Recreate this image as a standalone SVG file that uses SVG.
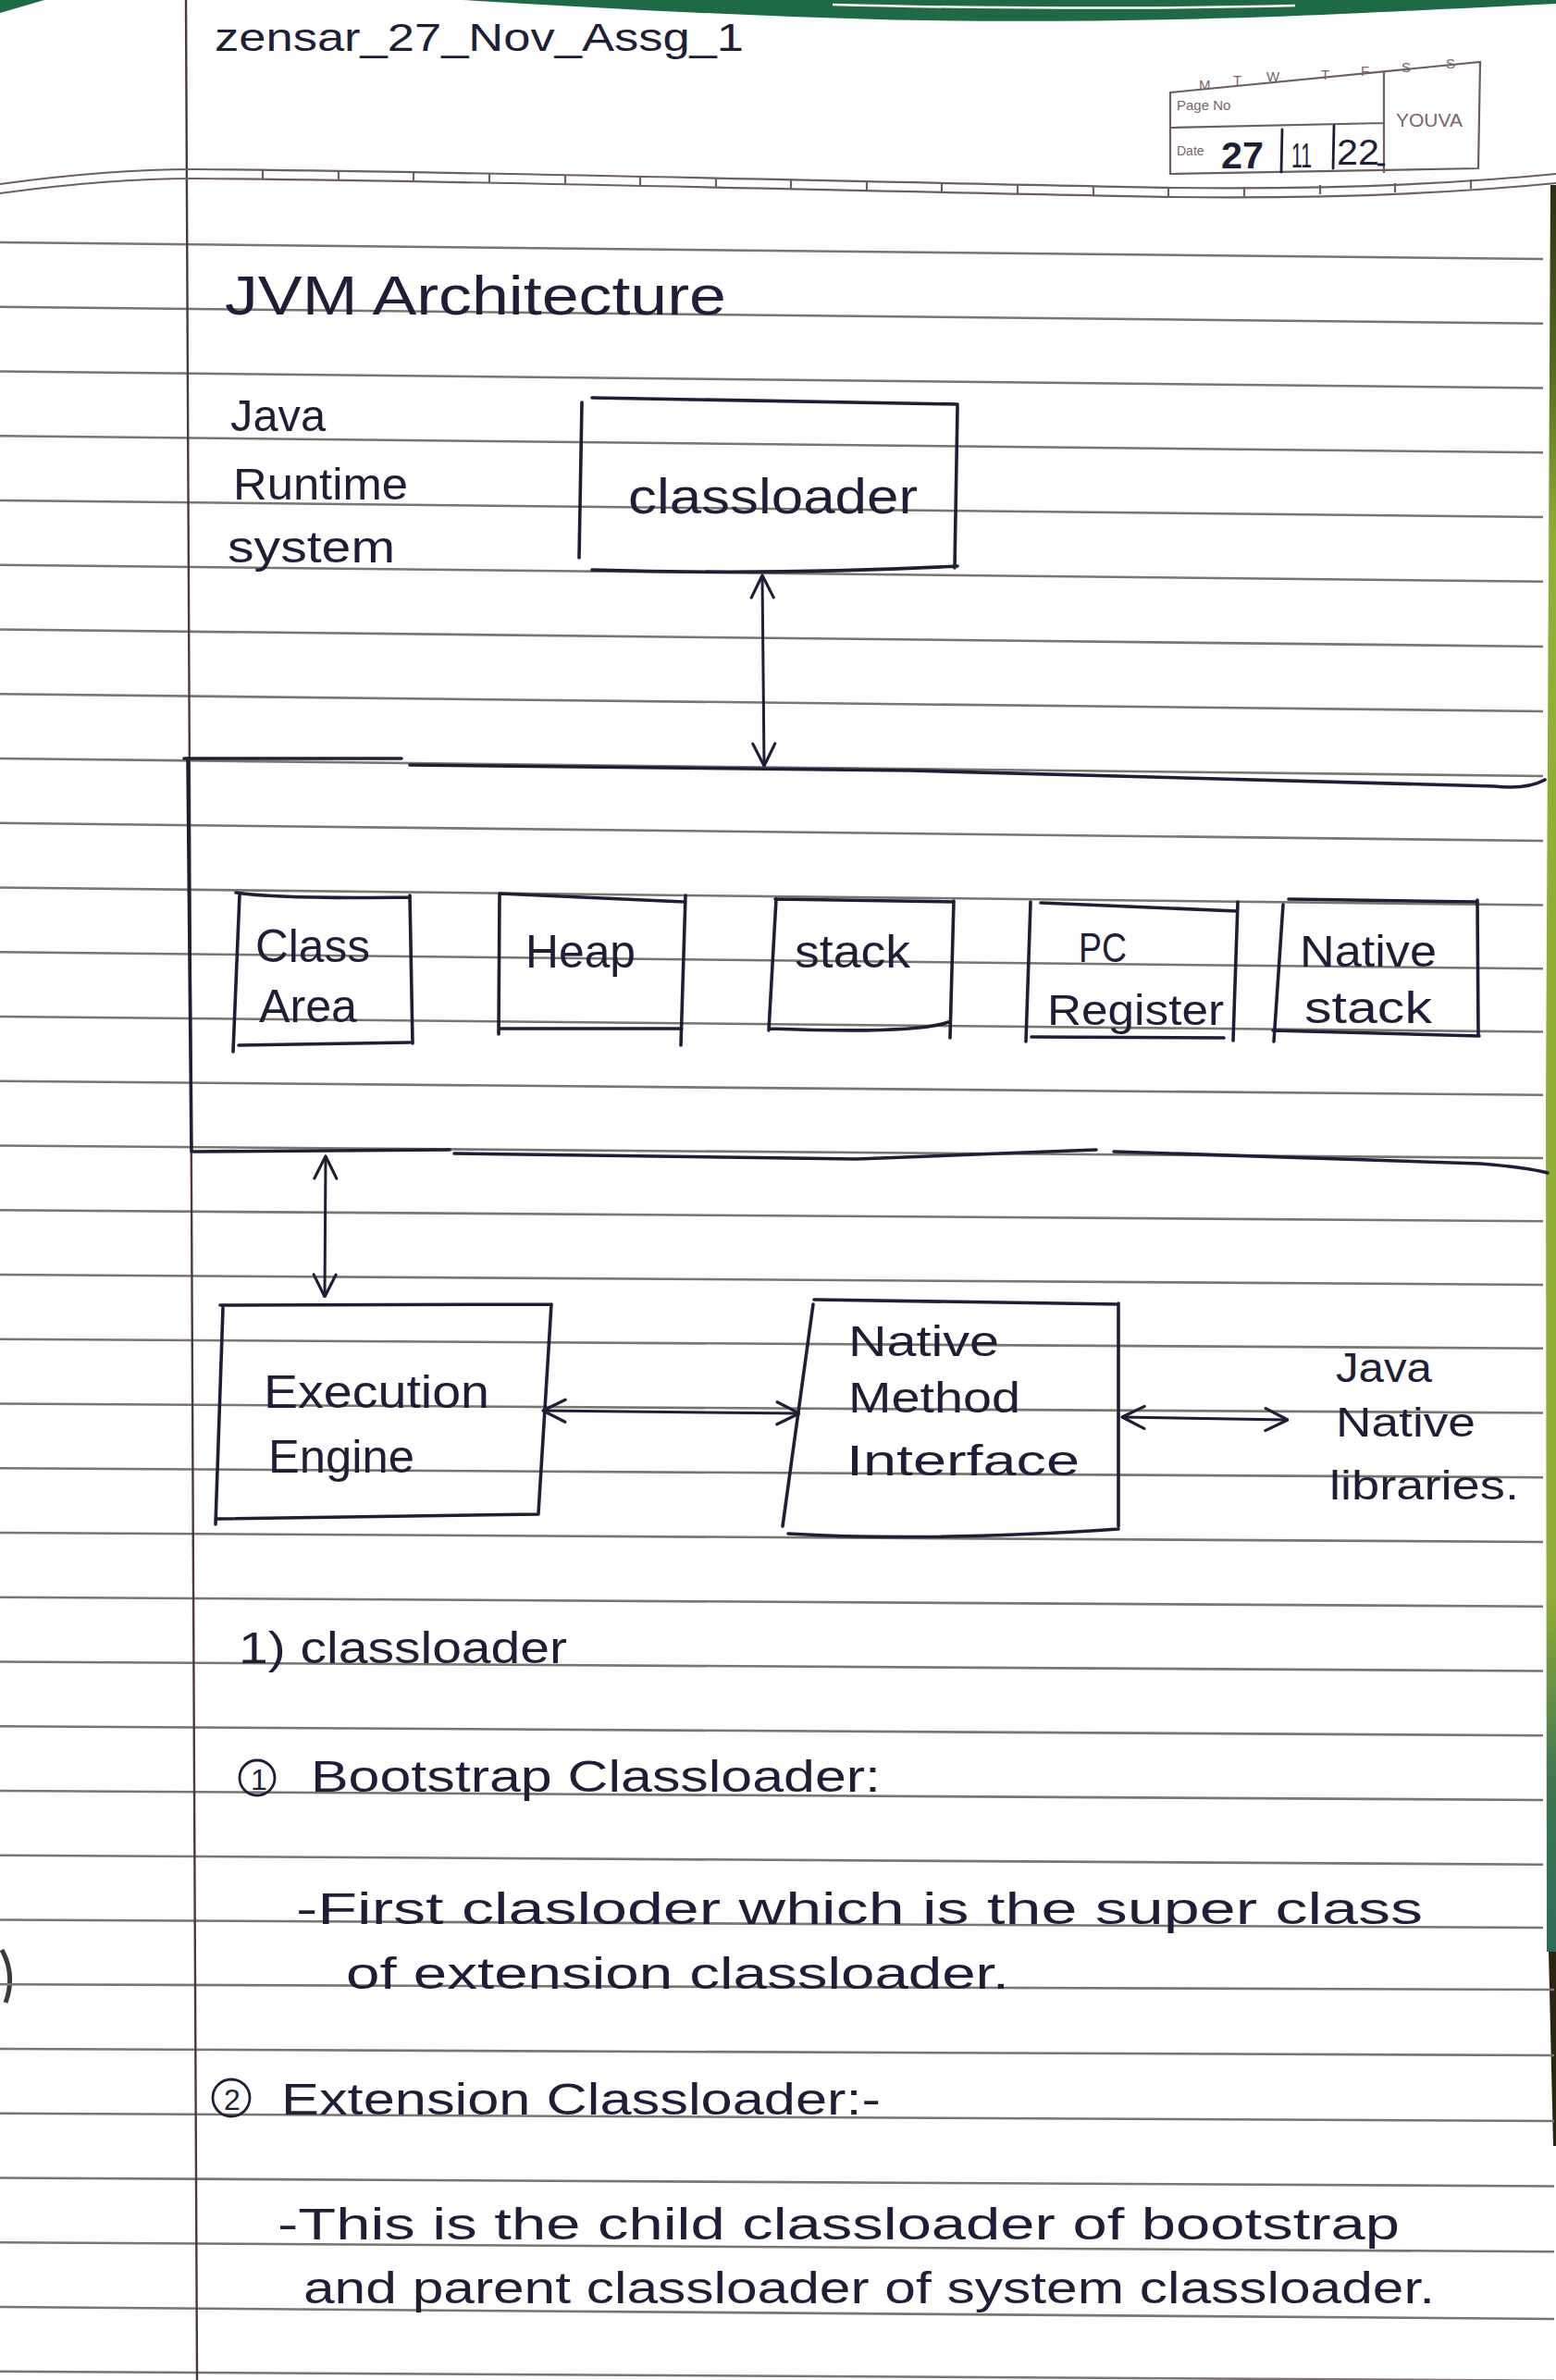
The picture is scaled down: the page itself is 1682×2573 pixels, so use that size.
<svg xmlns="http://www.w3.org/2000/svg" width="1682" height="2573" viewBox="0 0 1682 2573">
  <style>
    .rule { stroke: #7b7470; stroke-width: 2.6; fill: none; }
    .ink { stroke: #1e1e38; stroke-width: 3.6; fill: none; stroke-linecap: round; stroke-linejoin: round; }
    .inkthin { stroke: #1e1e38; stroke-width: 2.8; fill: none; stroke-linecap: round; }
    .hw { font-family: "Liberation Sans", Arial, sans-serif; fill: #1e1e38; }
    .print { font-family: "Liberation Sans", Arial, sans-serif; fill: #7a6468; }
    .pad { stroke: #6e5e62; stroke-width: 2.2; fill: none; }
    .arrow { stroke: #1e1e38; stroke-width: 3; fill: none; marker-start: url(#ah); marker-end: url(#ah); }
  </style>
  <defs>
    <marker id="ah" viewBox="0 0 20 20" refX="19" refY="10" markerWidth="30" markerHeight="30" markerUnits="userSpaceOnUse" orient="auto-start-reverse">
      <path d="M3,2 L19,10 L3,18" fill="none" stroke="#1e1e38" stroke-width="2.1" stroke-linecap="round" stroke-linejoin="round"/>
    </marker>
    <linearGradient id="binding" x1="0" y1="200" x2="0" y2="2110" gradientUnits="userSpaceOnUse">
      <stop offset="0" stop-color="#2d2c12"/>
      <stop offset="0.1" stop-color="#4f6a1e"/>
      <stop offset="0.2" stop-color="#93ae35"/>
      <stop offset="0.8" stop-color="#8fac38"/>
      <stop offset="0.9" stop-color="#3f7650"/>
      <stop offset="1" stop-color="#2d6a5a"/>
    </linearGradient>
  </defs>

  <!-- paper -->
  <rect width="1682" height="2573" fill="#ffffff"/>

  <!-- green cover edge at the top and the binding strip on the right -->
  <g id="page-edges">
    <path d="M0,0 H48 L0,14 Z" fill="#1f6a46"/>
    <path d="M500,0 H1682 V4 C1600,8 1520,12 1450,15 C1300,22 1100,25 950,21 C800,17 650,9 500,0 Z" fill="#1f6a46"/>
    <path d="M900,5 C1050,9 1250,10 1400,6" stroke="#ffffff" stroke-width="2.5" fill="none"/>
    <path d="M1676,200 L1682,200 L1682,2110 L1672,2110 L1671,1200 Z" fill="url(#binding)"/>
    <path d="M1674,2110 L1682,2110 L1682,2320 L1679,2320 Z" fill="#2a2512"/>
    <path d="M2,2108 Q17,2135 6,2165" stroke="#3a3a3a" stroke-width="5" fill="none"/>
  </g>

  <!-- ruled lines -->
  <g id="rules" class="rule">
    <path d="M0,262 L1668,280"/>
    <path d="M0,331.75 L1668,349.75"/>
    <path d="M0,401.5 L1668,419.5"/>
    <path d="M0,471.25 L1668,489.25"/>
    <path d="M0,541 L1668,559"/>
    <path d="M0,610.75 L1668,628.75"/>
    <path d="M0,680.5 L1668,699"/>
    <path d="M0,750.25 L1668,769"/>
    <path d="M0,820 L1668,839"/>
    <path d="M0,889.75 L1668,909"/>
    <path d="M0,959.5 L1668,978.5"/>
    <path d="M0,1029.25 L1668,1047.3"/>
    <path d="M0,1099 L1668,1115.5"/>
    <path d="M0,1168.75 L1668,1183.75"/>
    <path d="M0,1238.5 L1668,1252"/>
    <path d="M0,1308.25 L1668,1320.25"/>
    <path d="M0,1378 L1668,1389"/>
    <path d="M0,1447.75 L1668,1457.75"/>
    <path d="M0,1517.5 L1668,1527.5"/>
    <path d="M0,1587.25 L1668,1597.25"/>
    <path d="M0,1657 L1668,1667"/>
    <path d="M0,1726.75 L1668,1736.75"/>
    <path d="M0,1796.5 L1668,1806.5"/>
    <path d="M0,1866.25 L1668,1876.25"/>
    <path d="M0,1936 L1668,1946"/>
    <path d="M0,2005.75 L1668,2015.75"/>
    <path d="M0,2075.5 L1668,2084"/>
    <path d="M0,2145.25 L1680,2151"/>
    <path d="M0,2215 L1680,2222"/>
    <path d="M0,2284.75 L1680,2293"/>
    <path d="M0,2354.5 L1680,2363.5"/>
    <path d="M0,2424.25 L1680,2434.25"/>
    <path d="M0,2494 L1680,2507"/>
    <path d="M0,2563.75 L1680,2573.75"/>
  </g>

  <!-- margin line -->
  <path id="margin" d="M201,0 L213,2573" stroke="#4d3a38" stroke-width="2.4" fill="none"/>

  <!-- printed double header rule with ticks -->
  <g id="header-rule" class="pad">
    <path d="M0,199 C80,188 150,183 210,183 C500,185 900,196 1270,203 C1450,205 1580,198 1682,188"/>
    <path d="M0,209 C80,198 150,193 210,193 C500,195 900,206 1270,213 C1450,215 1580,208 1682,198"/>
    <path d="M284,184 v10 M366,185 v10 M447,187 v10 M529,188 v10 M611,189 v10 M692,190 v10 M774,192 v10 M855,194 v10 M937,196 v10 M1018,198 v10 M1100,200 v10 M1182,201 v10 M1263,203 v10 M1345,202 v10 M1427,200 v10 M1508,198 v10 M1590,194 v10"/>
  </g>

  <!-- page number / date box -->
  <g id="date-box">
    <path class="pad" d="M1265,100 L1600,67 L1598,182 L1265,188 Z"/>
    <path class="pad" d="M1496,77 L1496,187 M1265,138 L1496,133"/>
    <g class="print" font-size="15">
      <text x="1296" y="97">M</text>
      <text x="1333" y="92">T</text>
      <text x="1369" y="88">W</text>
      <text x="1428" y="86">T</text>
      <text x="1471" y="82">F</text>
      <text x="1515" y="78">S</text>
      <text x="1563" y="74">S</text>
      <text x="1272" y="119" font-size="15">Page No</text>
      <text x="1272" y="168" font-size="14">Date</text>
      <text x="1509" y="137" font-size="21">YOUVA</text>
    </g>
    <g class="hw" fill="#202a66">
      <text x="1320" y="182" font-size="40" font-weight="bold" textLength="46" lengthAdjust="spacingAndGlyphs">27</text>
      <text x="1396" y="181" font-size="36" textLength="22" lengthAdjust="spacingAndGlyphs">11</text>
      <text x="1445" y="178" font-size="38" textLength="46" lengthAdjust="spacingAndGlyphs">22</text>
    </g>
    <path class="inkthin" d="M1386,140 L1385,186 M1442,136 L1441,182 M1490,178 L1496,178"/>
  </g>

  <!-- assignment heading and title -->
  <text id="assignment" class="hw" x="232" y="55" font-size="42" textLength="572" lengthAdjust="spacingAndGlyphs">zensar_27_Nov_Assg_1</text>
  <text id="title" class="hw" x="243" y="340" font-size="60" textLength="542" lengthAdjust="spacingAndGlyphs">JVM Architecture</text>

  <g id="jrs-label" class="hw" font-size="48">
    <text x="249" y="466" textLength="103" lengthAdjust="spacingAndGlyphs">Java</text>
    <text x="252" y="540" textLength="189" lengthAdjust="spacingAndGlyphs">Runtime</text>
    <text x="246" y="608" textLength="181" lengthAdjust="spacingAndGlyphs">system</text>
  </g>

  <!-- nodes -->
  <g id="classloader">
    <path class="ink" d="M640,430 L1035,437 M1035,439 L1032,614 M640,616 Q840,622 1035,612 M629,435 L626,603"/>
    <text class="hw" x="679" y="555" font-size="54" textLength="313" lengthAdjust="spacingAndGlyphs">classloader</text>
  </g>

  <g id="runtime-data-areas">
    <path class="ink" d="M199,820 L434,820 M443,827 L984,833 L1615,850 Q1650,854 1670,843"/>
    <path class="ink" d="M203,820 L207,1245"/>
    <path class="ink" d="M209,1245 L486,1243 M491,1247 L926,1253 L1185,1243 M1204,1245 L1600,1258 Q1650,1262 1673,1268"/>

    <g id="class-area">
      <path class="ink" d="M255,965 Q300,972 443,970 M443,968 L446,1128 M258,1130 L443,1127 M259,967 L252,1137"/>
      <text class="hw" x="276" y="1040" font-size="50" textLength="124" lengthAdjust="spacingAndGlyphs">Class</text>
      <text class="hw" x="280" y="1105" font-size="50" textLength="106" lengthAdjust="spacingAndGlyphs">Area</text>
    </g>
    <g id="heap">
      <path class="ink" d="M540,966 L740,975 M741,968 L736,1130 M541,1112 L737,1112 M540,966 L539,1118"/>
      <text class="hw" x="568" y="1046" font-size="50" textLength="119" lengthAdjust="spacingAndGlyphs">Heap</text>
    </g>
    <g id="stack">
      <path class="ink" d="M838,972 L1031,975 M1031,974 L1027,1122 M832,1112 Q990,1118 1025,1105 M839,972 L831,1114"/>
      <text class="hw" x="859" y="1046" font-size="50" textLength="125" lengthAdjust="spacingAndGlyphs">stack</text>
    </g>
    <g id="pc-register">
      <path class="ink" d="M1125,976 L1337,985 M1338,975 L1333,1125 M1115,1121 L1323,1122 M1114,975 L1109,1126"/>
      <text class="hw" x="1166" y="1040" font-size="44" textLength="52" lengthAdjust="spacingAndGlyphs">PC</text>
      <text class="hw" x="1132" y="1108" font-size="46" textLength="191" lengthAdjust="spacingAndGlyphs">Register</text>
    </g>
    <g id="native-stack">
      <path class="ink" d="M1393,972 L1596,975 M1597,973 L1598,1120 M1376,1114 L1599,1120 M1387,978 L1377,1126"/>
      <text class="hw" x="1405" y="1045" font-size="48" textLength="148" lengthAdjust="spacingAndGlyphs">Native</text>
      <text class="hw" x="1410" y="1106" font-size="48" textLength="138" lengthAdjust="spacingAndGlyphs">stack</text>
    </g>
  </g>

  <g id="execution-engine">
    <path class="ink" d="M238,1411 L596,1410 M596,1410 L582,1636 M235,1642 L582,1637 M241,1414 L233,1648"/>
    <text class="hw" x="285" y="1522" font-size="50" textLength="244" lengthAdjust="spacingAndGlyphs">Execution</text>
    <text class="hw" x="290" y="1592" font-size="50" textLength="158" lengthAdjust="spacingAndGlyphs">Engine</text>
  </g>

  <g id="native-method-interface">
    <path class="ink" d="M880,1405 L1209,1410 M1209,1409 L1209,1650 M852,1658 Q1000,1667 1209,1653 M879,1410 L846,1650"/>
    <text class="hw" x="917" y="1466" font-size="46" textLength="163" lengthAdjust="spacingAndGlyphs">Native</text>
    <text class="hw" x="917" y="1527" font-size="46" textLength="186" lengthAdjust="spacingAndGlyphs">Method</text>
    <text class="hw" x="915" y="1595" font-size="46" textLength="252" lengthAdjust="spacingAndGlyphs">Interface</text>
  </g>

  <g id="java-native-libraries" class="hw" font-size="44">
    <text x="1444" y="1494" textLength="104" lengthAdjust="spacingAndGlyphs">Java</text>
    <text x="1444" y="1553" textLength="151" lengthAdjust="spacingAndGlyphs">Native</text>
    <text x="1437" y="1621" textLength="205" lengthAdjust="spacingAndGlyphs">libraries.</text>
  </g>

  <!-- connectors -->
  <g id="connectors">
    <path class="arrow" d="M824,622 L826,828"/>
    <path class="arrow" d="M352,1250 L351,1402"/>
    <path class="arrow" d="M587,1525 L864,1528"/>
    <path class="arrow" d="M1213,1532 L1392,1535"/>
  </g>

  <!-- notes -->
  <g id="notes" class="hw" font-size="48">
    <text x="258" y="1798" textLength="355" lengthAdjust="spacingAndGlyphs">1) classloader</text>

    <circle cx="278" cy="1922" r="19" class="inkthin"/>
    <text x="271" y="1935" font-size="32">1</text>
    <text x="336" y="1937" textLength="616" lengthAdjust="spacingAndGlyphs">Bootstrap Classloader:</text>

    <text x="320" y="2080" textLength="1218" lengthAdjust="spacingAndGlyphs">-First clasloder which is the super class</text>
    <text x="374" y="2150" textLength="717" lengthAdjust="spacingAndGlyphs">of extension classloader.</text>

    <circle cx="250" cy="2268" r="20" class="inkthin"/>
    <text x="242" y="2281" font-size="32">2</text>
    <text x="304" y="2286" textLength="648" lengthAdjust="spacingAndGlyphs">Extension Classloader:-</text>

    <text x="300" y="2421" textLength="1213" lengthAdjust="spacingAndGlyphs">-This is the child classloader of bootstrap</text>
    <text x="328" y="2490" textLength="1223" lengthAdjust="spacingAndGlyphs">and parent classloader of system classloader.</text>
  </g>
</svg>
